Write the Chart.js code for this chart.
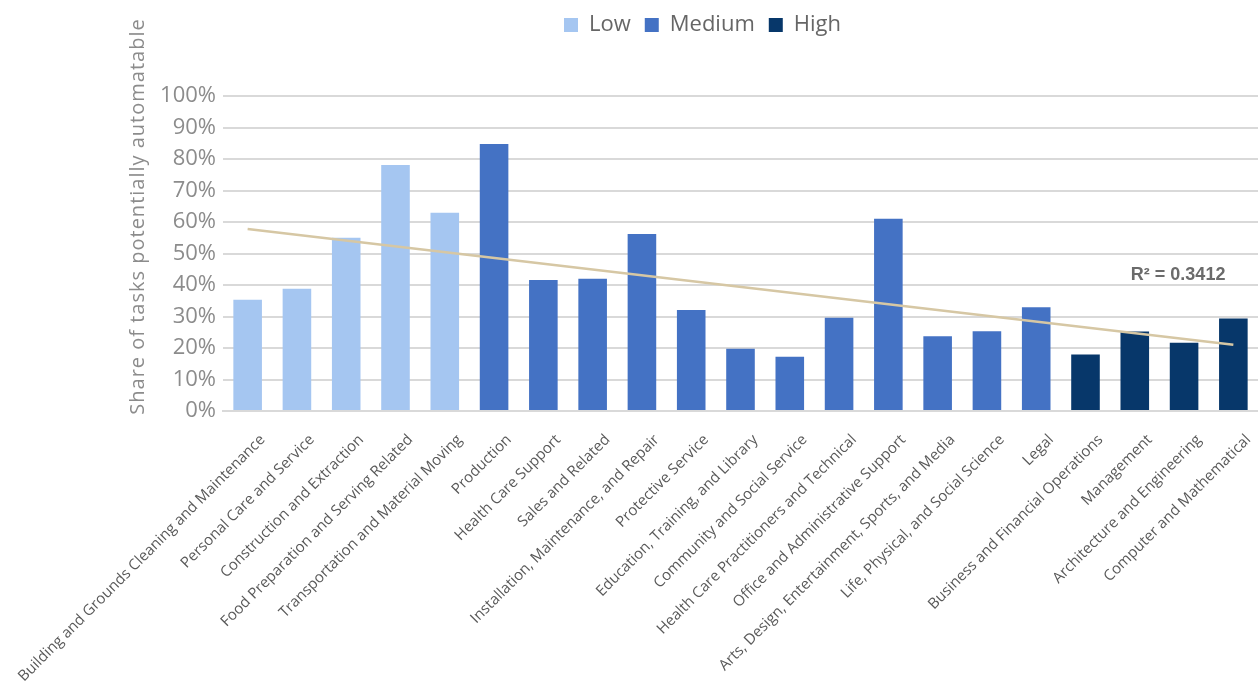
<!DOCTYPE html>
<html>
<head>
<meta charset="utf-8">
<script src="https://cdn.jsdelivr.net/npm/chart.js@4/dist/chart.umd.min.js"></script>
<style>
  html, body { margin: 0; padding: 0; background: #fff; overflow: hidden; }
  #wrap { width: 1258px; height: 682px; position: relative; }
</style>
</head>
<body>
<div id="wrap"><canvas id="myChart"></canvas></div>
<script>
const occupations = [
  'Building and Grounds Cleaning and Maintenance', 'Personal Care and Service', 'Construction and Extraction',
  'Food Preparation and Serving Related', 'Transportation and Material Moving', 'Production',
  'Health Care Support', 'Sales and Related', 'Installation, Maintenance, and Repair', 'Protective Service',
  'Education, Training, and Library', 'Community and Social Service', 'Health Care Practitioners and Technical',
  'Office and Administrative Support', 'Arts, Design, Entertainment, Sports, and Media',
  'Life, Physical, and Social Science', 'Legal', 'Business and Financial Operations', 'Management',
  'Architecture and Engineering', 'Computer and Mathematical'
];

const low    = [35.3, 38.8, 55.0, 78.1, 62.9, null, null, null, null, null, null, null, null, null, null, null, null, null, null, null, null];
const medium = [null, null, null, null, null, 84.8, 41.6, 42.0, 56.2, 32.1, 19.8, 17.2, 29.6, 61.0, 23.7, 25.3, 32.9, null, null, null, null];
const high   = [null, null, null, null, null, null, null, null, null, null, null, null, null, null, null, null, null, 17.9, 25.2, 21.7, 29.4];

// trendline end points (first and last category)
const trendStart = 57.8;
const trendEnd = 21.0;
const rSquared = 'R\u00b2 = 0.3412';
const yTicks = [0, 10, 20, 30, 40, 50, 60, 70, 80, 90, 100];

const ctx = document.getElementById('myChart');

const layoutTweaks = {
  id: 'layoutTweaks',
  beforeLayout(chart) {
    const lg = chart.legend;
    if (lg && !lg._fixed) {
      const fit = lg.fit;
      lg.fit = function () { fit.call(this); this.height = 96; };
      lg._fixed = true;
    }
  },
  afterLayout(chart) {
    // legend sits a bit right of the canvas centre
    chart.legend.left += 72;
    chart.legend.right += 72;
  },
  afterDraw(chart) {
    const c = chart.ctx;
    const area = chart.chartArea;
    const x = chart.scales.x, y = chart.scales.y;
    c.save();
    // y axis title
    c.translate(area.left - 85, (area.top + area.bottom) / 2 - 37);
    c.rotate(-Math.PI / 2);
    c.font = '20px "Open Sans"';
    c.letterSpacing = '1px';
    c.fillStyle = '#8c8c8c';
    c.textAlign = 'center';
    c.textBaseline = 'middle';
    c.fillText('Share of tasks potentially automatable', 0, 0);
    c.restore();
    // R squared label
    c.save();
    c.font = 'bold 18px "Liberation Sans"';
    c.fillStyle = '#6b6b6b';
    c.textAlign = 'left';
    c.textBaseline = 'middle';
    c.fillText(rSquared, x.getPixelForValue(17.92), y.getPixelForValue(43.3));
    c.restore();
  }
};

new Chart(ctx, {
  type: 'bar',
  data: {
    labels: occupations,
    datasets: [
      { label: 'Low', data: low, backgroundColor: '#A5C6F1', order: 1, skipNull: true },
      { label: 'Medium', data: medium, backgroundColor: '#4472C4', order: 1, skipNull: true },
      { label: 'High', data: high, backgroundColor: '#07376A', order: 1, skipNull: true },
      {
        type: 'line',
        label: 'Trend',
        data: [
          { x: occupations[0], y: trendStart },
          { x: occupations[occupations.length - 1], y: trendEnd }
        ],
        borderColor: '#D6C7A4',
        borderWidth: 2.5,
        pointRadius: 0,
        tension: 0,
        order: 0
      }
    ]
  },
  options: {
    responsive: true,
    maintainAspectRatio: false,
    animation: false,
    layout: { padding: { left: 0, right: -3, top: 0, bottom: 0 } },
    datasets: {
      bar: { barPercentage: 0.58, categoryPercentage: 1 }
    },
    scales: {
      x: {
        grid: { display: false, drawTicks: false },
        border: { color: '#d9d9d9', width: 2 },
        ticks: {
          autoSkip: false,
          minRotation: 45,
          maxRotation: 45,
          padding: 20,
          labelOffset: 15,
          color: '#595959',
          font: { family: '"Open Sans"', size: 15 }
        },
        afterFit(scale) {
          scale.height = 271;
          scale.paddingLeft = 0;
          scale.paddingRight = 0;
        }
      },
      y: {
        min: 0,
        max: 100,
        afterBuildTicks(scale) { scale.ticks = yTicks.map(v => ({ value: v })); },
        grid: { color: '#d9d9d9', lineWidth: 2, drawTicks: false },
        border: { display: false },
        ticks: {
          padding: 7,
          color: '#8c8c8c',
          font: { family: '"Open Sans"', size: 22 },
          callback: v => v + '%'
        },
        afterFit(scale) { scale.width = 223; }
      }
    },
    plugins: {
      legend: {
        position: 'top',
        align: 'center',
        labels: {
          filter: item => item.datasetIndex < 3,
          boxWidth: 14,
          boxHeight: 14,
          padding: 14,
          color: '#666666',
          font: { family: '"Open Sans"', size: 22 }
        }
      },
      tooltip: { enabled: false }
    }
  },
  plugins: [layoutTweaks]
});
</script>
</body>
</html>
